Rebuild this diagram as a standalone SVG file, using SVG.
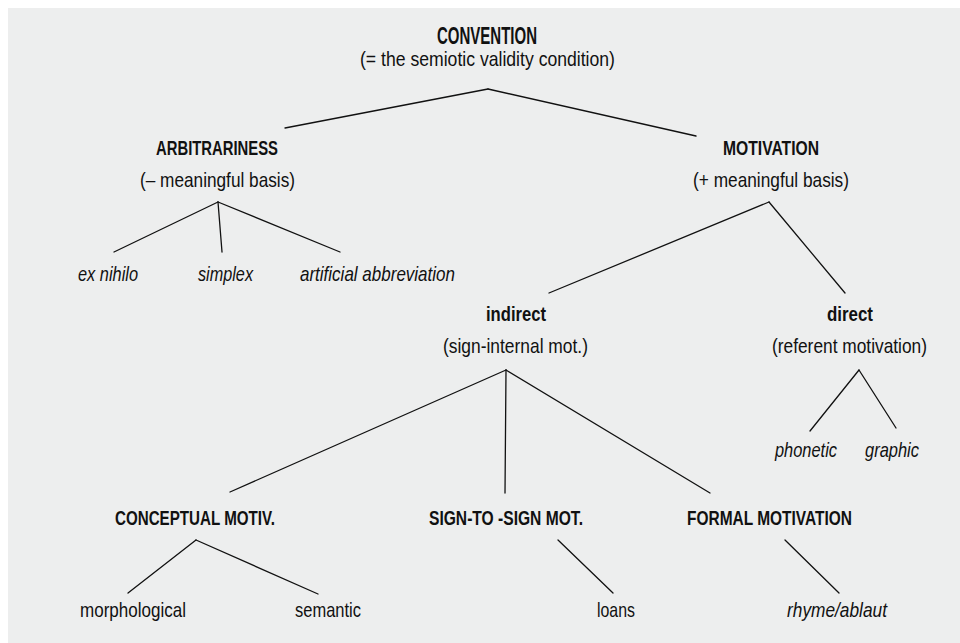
<svg xmlns="http://www.w3.org/2000/svg" width="960" height="643" viewBox="0 0 960 643">
<style>
text{font-family:"Liberation Sans Narrow","Liberation Sans",Arial,sans-serif;font-size:21px;fill:#111111}
.b{font-weight:bold}
.i{font-style:italic}
.t{font-size:23px}
#connectors line{stroke:#111111;stroke-width:1.3;stroke-linecap:round}
</style>
<rect x="0" y="0" width="960" height="643" fill="#ffffff"/>
<rect x="8" y="8" width="952" height="635" fill="#edeeee"/>
<g id="connectors">
<line x1="488" y1="89" x2="285" y2="128"/>
<line x1="488" y1="89" x2="696" y2="136"/>
<line x1="218" y1="202" x2="114" y2="252"/>
<line x1="218" y1="202" x2="222" y2="252"/>
<line x1="218" y1="202" x2="340" y2="252"/>
<line x1="769" y1="202" x2="549" y2="293"/>
<line x1="769" y1="202" x2="845" y2="293"/>
<line x1="506" y1="370" x2="230" y2="492"/>
<line x1="506" y1="370" x2="505" y2="493"/>
<line x1="506" y1="370" x2="710" y2="493"/>
<line x1="859" y1="370" x2="810" y2="431"/>
<line x1="859" y1="370" x2="896" y2="428"/>
<line x1="196" y1="540" x2="128" y2="593"/>
<line x1="196" y1="540" x2="318" y2="594"/>
<line x1="558" y1="540" x2="613" y2="593"/>
<line x1="785" y1="540" x2="839" y2="593"/>
</g>
<g id="convention">
<text class="b t" x="437" y="44" textLength="100" lengthAdjust="spacingAndGlyphs">CONVENTION</text>
<text x="360" y="66" textLength="255" lengthAdjust="spacingAndGlyphs">(= the semiotic validity condition)</text>
</g>
<g id="arbitrariness">
<text class="b" x="156" y="155" textLength="122" lengthAdjust="spacingAndGlyphs">ARBITRARINESS</text>
<text x="140" y="187" textLength="155" lengthAdjust="spacingAndGlyphs">(– meaningful basis)</text>
</g>
<g id="ex-nihilo"><text class="i" x="78" y="281" textLength="60" lengthAdjust="spacingAndGlyphs">ex nihilo</text></g>
<g id="simplex"><text class="i" x="198" y="281" textLength="55" lengthAdjust="spacingAndGlyphs">simplex</text></g>
<g id="artificial-abbreviation"><text class="i" x="300" y="281" textLength="155" lengthAdjust="spacingAndGlyphs">artificial abbreviation</text></g>
<g id="motivation">
<text class="b" x="723" y="155" textLength="96" lengthAdjust="spacingAndGlyphs">MOTIVATION</text>
<text x="693" y="187" textLength="156" lengthAdjust="spacingAndGlyphs">(+ meaningful basis)</text>
</g>
<g id="indirect">
<text class="b" x="486" y="321" textLength="60" lengthAdjust="spacingAndGlyphs">indirect</text>
<text x="443" y="353" textLength="145" lengthAdjust="spacingAndGlyphs">(sign-internal mot.)</text>
</g>
<g id="direct">
<text class="b" x="827" y="321" textLength="46" lengthAdjust="spacingAndGlyphs">direct</text>
<text x="772" y="353" textLength="155" lengthAdjust="spacingAndGlyphs">(referent motivation)</text>
</g>
<g id="phonetic"><text class="i" x="775" y="457" textLength="62" lengthAdjust="spacingAndGlyphs">phonetic</text></g>
<g id="graphic"><text class="i" x="865" y="457" textLength="54" lengthAdjust="spacingAndGlyphs">graphic</text></g>
<g id="conceptual"><text class="b" x="115" y="525" textLength="160" lengthAdjust="spacingAndGlyphs">CONCEPTUAL MOTIV.</text></g>
<g id="sign-to-sign"><text class="b" x="429" y="525" textLength="154" lengthAdjust="spacingAndGlyphs">SIGN-TO -SIGN MOT.</text></g>
<g id="formal"><text class="b" x="687" y="525" textLength="165" lengthAdjust="spacingAndGlyphs">FORMAL MOTIVATION</text></g>
<g id="morphological"><text x="80" y="617" textLength="106" lengthAdjust="spacingAndGlyphs">morphological</text></g>
<g id="semantic"><text x="295" y="617" textLength="66" lengthAdjust="spacingAndGlyphs">semantic</text></g>
<g id="loans"><text x="597" y="617" textLength="38" lengthAdjust="spacingAndGlyphs">loans</text></g>
<g id="rhyme-ablaut"><text class="i" x="787" y="617" textLength="100" lengthAdjust="spacingAndGlyphs">rhyme/ablaut</text></g>
</svg>
